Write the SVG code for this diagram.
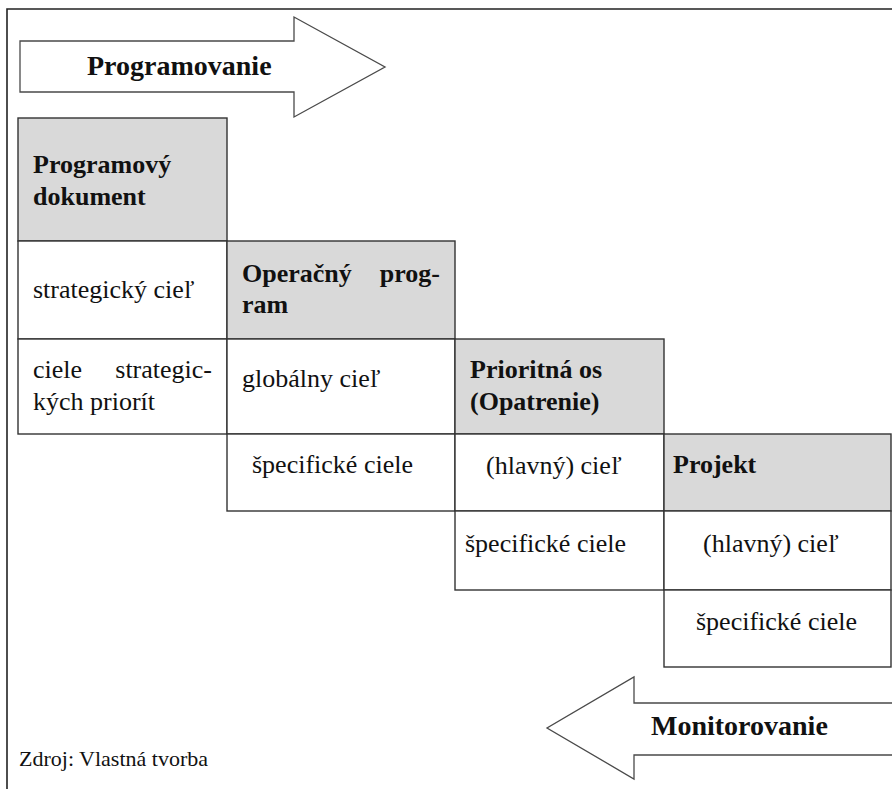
<svg xmlns="http://www.w3.org/2000/svg" width="892" height="789" viewBox="0 0 892 789">
<style>
.cell{stroke:#333;stroke-width:1.4;fill:#fff}
.hd{stroke:#333;stroke-width:1.4;fill:#d9d9d9}
.arrow{fill:#fff;stroke:#4a4a4a;stroke-width:1.3;stroke-linejoin:miter}
text{font-family:"Liberation Serif","Times New Roman",serif;fill:#111}
.t{font-size:26px}
.b{font-size:26px;font-weight:bold}
.big{font-size:28px;font-weight:bold}
.src{font-size:22px}
</style>
<rect x="0" y="0" width="892" height="789" fill="#fff"/>
<g id="frame">
<path d="M7,789 V9 H892" fill="none" stroke="#222" stroke-width="1.6"/>
</g>
<g id="arrow-programovanie">
<polygon class="arrow" points="20,41 294,41 294,17 385,67 294,117 294,92 20,92"/>
<text class="big" x="87" y="75">Programovanie</text>
</g>
<g id="arrow-monitorovanie">
<polygon class="arrow" points="893,703 634,703 634,677 547,728 634,779 634,755 893,755"/>
<text class="big" x="651" y="735">Monitorovanie</text>
</g>
<g id="programovy-dokument">
<rect class="hd" x="18" y="118" width="209" height="123"/>
<text class="b" x="33" y="173">Programový</text>
<text class="b" x="33" y="205">dokument</text>
</g>
<g id="strategicky-ciel">
<rect class="cell" x="18" y="241" width="209" height="98"/>
<text class="t" x="33" y="298">strategický cieľ</text>
</g>
<g id="ciele-strategickych-priorit">
<rect class="cell" x="18" y="339" width="209" height="95"/>
<text class="t" x="33" y="378">ciele</text>
<text class="t" x="212" y="378" text-anchor="end">strategic-</text>
<text class="t" x="33" y="410">kých priorít</text>
</g>
<g id="operacny-program">
<rect class="hd" x="227" y="241" width="228" height="98"/>
<text class="b" x="242" y="282">Operačný</text>
<text class="b" x="440" y="282" text-anchor="end">prog-</text>
<text class="b" x="242" y="313">ram</text>
</g>
<g id="globalny-ciel">
<rect class="cell" x="227" y="339" width="228" height="95"/>
<text class="t" x="242" y="387">globálny cieľ</text>
</g>
<g id="specificke-ciele-1">
<rect class="cell" x="227" y="434" width="228" height="77"/>
<text class="t" x="252" y="473">špecifické ciele</text>
</g>
<g id="prioritna-os">
<rect class="hd" x="455" y="339" width="209" height="95"/>
<text class="b" x="470" y="378">Prioritná os</text>
<text class="b" x="470" y="410">(Opatrenie)</text>
</g>
<g id="hlavny-ciel-1">
<rect class="cell" x="455" y="434" width="209" height="77"/>
<text class="t" x="486" y="474">(hlavný) cieľ</text>
</g>
<g id="specificke-ciele-2">
<rect class="cell" x="455" y="511" width="209" height="79"/>
<text class="t" x="465" y="552">špecifické ciele</text>
</g>
<g id="projekt">
<rect class="hd" x="664" y="434" width="227" height="77"/>
<text class="b" x="673" y="473">Projekt</text>
</g>
<g id="hlavny-ciel-2">
<rect class="cell" x="664" y="511" width="227" height="79"/>
<text class="t" x="703" y="552">(hlavný) cieľ</text>
</g>
<g id="specificke-ciele-3">
<rect class="cell" x="664" y="590" width="227" height="77"/>
<text class="t" x="696" y="630">špecifické ciele</text>
</g>
<g id="connectors"></g>
<g id="source">
<text class="src" x="19" y="766">Zdroj: Vlastná tvorba</text>
</g>
</svg>
